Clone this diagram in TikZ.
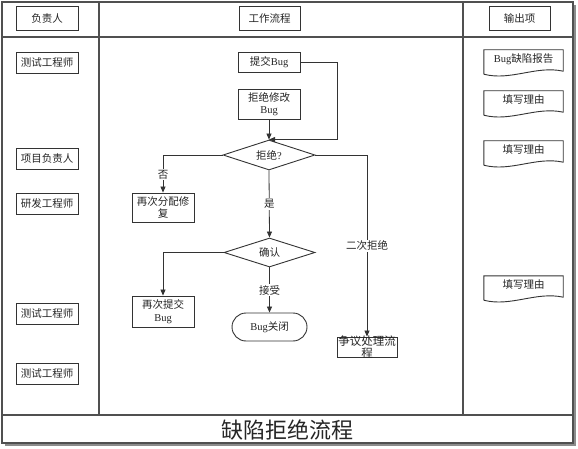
\documentclass[tikz,border=0pt]{standalone}
\usepackage{fontspec}
\setmainfont{Liberation Serif}
\newfontfamily\cj{Noto Sans CJK SC}
\usetikzlibrary{arrows.meta,shapes.geometric,calc}
\definecolor{lc}{HTML}{333333}
\definecolor{fc}{HTML}{505050}
\begin{document}
\begin{tikzpicture}[x=1pt,y=-1pt,
  txt/.style={font=\fontsize{10.5}{12.5}\selectfont\cj, text=black!85},
  box/.style={txt,draw=lc,line width=0.9pt,rectangle,inner sep=0pt,align=center},
  dia/.style={txt,draw=lc,line width=0.9pt,diamond,inner sep=0pt,shape aspect=3},
  arr/.style={draw=lc,line width=0.8pt,-{Triangle[length=6pt,width=5pt]}},
  lab/.style={txt,fill=white,inner sep=1pt},
  frame/.style={draw=fc,line width=1.4pt},
  docnode/.style={txt,rectangle,minimum width=79pt,minimum height=18pt,inner sep=0pt},
  docline/.style={draw=lc,line width=0.9pt}
]
\useasboundingbox (0,0) rectangle (578,449);
% frame
\fill[black!45] (5,5) rectangle (576,446);
\fill[white] (2,2) rectangle (573,443);
\draw[frame] (2,2) rectangle (573,443);
\draw[frame] (2,37) -- (573,37);
\draw[frame] (2,415) -- (573,415);
\draw[frame] (99,2) -- (99,415);
\draw[frame] (463,2) -- (463,415);
\node[font=\fontsize{22}{24}\selectfont\cj, text=black!85] (title) at (287.5,430) {缺陷拒绝流程};

% headers
\node[box,minimum width=62pt,minimum height=24pt] (h1) at (47,18.5) {负责人};
\node[box,minimum width=61pt,minimum height=24pt] (h2) at (269.5,18.5) {工作流程};
\node[box,minimum width=61pt,minimum height=24pt] (h3) at (519.5,18.5) {输出项};

% roles
\node[box,minimum width=62pt,minimum height=21pt] (r1) at (47,62.5) {测试工程师};
\node[box,minimum width=62pt,minimum height=21pt] (r2) at (47,158.5) {项目负责人};
\node[box,minimum width=62pt,minimum height=21pt] (r3) at (47,203.5) {研发工程师};
\node[box,minimum width=62pt,minimum height=21pt] (r4) at (47,313.5) {测试工程师};
\node[box,minimum width=62pt,minimum height=21pt] (r5) at (47,373.5) {测试工程师};

% flow
\node[box,minimum width=62pt,minimum height=20pt] (tj) at (269,62) {提交{\rmfamily Bug}};
\node[box,minimum width=62pt,minimum height=30pt] (jj) at (269,104) {拒绝修改\\{\rmfamily Bug}};
\node[dia,minimum width=92pt,minimum height=30pt] (d1) at (269,155) {拒绝{\rmfamily ?}};
\node[box,minimum width=62pt,minimum height=29pt] (fp) at (163,207.5) {再次分配修\\复};
\node[dia,minimum width=91pt,minimum height=29pt] (d2) at (269.5,252.5) {确认};
\node[box,minimum width=62pt,minimum height=31pt] (tj2) at (163,311.5) {再次提交\\{\rmfamily Bug}};
\node[box,minimum width=75pt,minimum height=28pt,rounded corners=14pt] (gb) at (269.5,327) {{\rmfamily Bug}关闭};
\node[box,minimum width=60pt,minimum height=20pt] (zy) at (367,347) {};
\node[txt,align=center,font=\fontsize{11.5}{12}\selectfont\cj,inner sep=0pt] (zyt) at (zy.center) {争议处理流\\程};

% connectors
\draw[arr] (tj.east) -- ++(37,0) |- (d1.north);
\draw[arr] (jj.south) -- (d1.north);
\draw[arr] (d1.west) -| node[lab,pos=0.76] {否} (fp.north);
\draw[arr] (d1.east) -| node[lab,pos=0.75] {二次拒绝} (zy.north);
\draw[arr] (d1.south) -- node[lab] {是} (d2.north);
\draw[arr] (d2.west) -| (tj2.north);
\draw[arr] (d2.south) -- node[lab] {接受} (gb.north);

% outputs
\node[docnode] (o1) at (523.5,59) {{\rmfamily Bug}缺陷报告};
\node[docnode] (o2) at (523.5,100) {填写理由};
\node[docnode] (o3) at (523.5,150) {填写理由};
\node[docnode] (o4) at (523.5,285) {填写理由};
\foreach \n in {o1,o2,o3,o4}{
  \draw[docline] ($(\n.south west)+(0,6)$) -- (\n.north west) -- (\n.north east) -- ($(\n.south east)+(0,3)$)
    .. controls ($(\n.south east)+(-27,-3)$) and ($(\n.south west)+(27,13)$) .. ($(\n.south west)+(0,6)$);
}
\end{tikzpicture}
\end{document}
